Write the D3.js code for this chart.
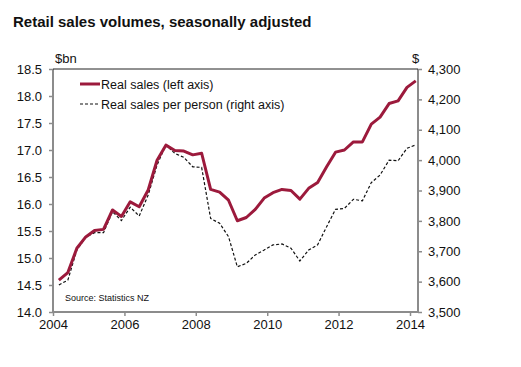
<!DOCTYPE html>
<html>
<head>
<meta charset="utf-8">
<script src="https://cdn.jsdelivr.net/npm/d3@7"></script>
<style>
  body { margin: 0; background: #fff; }
  svg { font-family: "Liberation Sans", Arial, sans-serif; }
</style>
</head>
<body>
<div class="plot"></div>
<script>
// quarter end months
const quarters = [
  "2004-03","2004-06","2004-09","2004-12","2005-03","2005-06","2005-09","2005-12",
  "2006-03","2006-06","2006-09","2006-12","2007-03","2007-06","2007-09","2007-12",
  "2008-03","2008-06","2008-09","2008-12","2009-03","2009-06","2009-09","2009-12",
  "2010-03","2010-06","2010-09","2010-12","2011-03","2011-06","2011-09","2011-12",
  "2012-03","2012-06","2012-09","2012-12","2013-03","2013-06","2013-09","2013-12",
  "2014-03"
];
// Real sales, $bn (left axis)
const realSales = [
  14.59, 14.73, 15.18, 15.39, 15.51, 15.53, 15.89, 15.77, 16.04, 15.95,
  16.26, 16.81, 17.09, 16.99, 16.98, 16.91, 16.94, 16.27, 16.22, 16.07,
  15.69, 15.75, 15.90, 16.11, 16.21, 16.27, 16.25, 16.09, 16.29, 16.40,
  16.69, 16.96, 17.00, 17.15, 17.15, 17.48, 17.61, 17.86, 17.91, 18.16,
  18.28
];
// Real sales per person, $ (right axis)
const perPerson = [
  3589, 3605, 3704, 3746, 3761, 3761, 3830, 3801, 3845, 3816,
  3885, 3984, 4050, 4022, 4009, 3978, 3976, 3808, 3792, 3748,
  3649, 3660, 3688, 3704, 3721, 3724, 3710, 3668, 3704, 3721,
  3781, 3838, 3841, 3871, 3866, 3926, 3951, 4000, 3998, 4039,
  4050
];
const leftTicks = [14.0, 14.5, 15.0, 15.5, 16.0, 16.5, 17.0, 17.5, 18.0, 18.5];
const rightTicks = [3500, 3600, 3700, 3800, 3900, 4000, 4100, 4200, 4300];
const yearTicks = [2004, 2006, 2008, 2010, 2012, 2014];

const W = 521, H = 367;
const margin = {top: 69, right: 103, bottom: 55, left: 53};
const w = W - margin.left - margin.right;
const h = H - margin.top - margin.bottom;

const parse = d3.timeParse("%Y-%m");
const dates = quarters.map(parse);

const svg = d3.select(".plot")
  .append("svg")
    .attr("width", W)
    .attr("height", H);

const g = svg.append("g")
  .attr("transform", "translate(" + margin.left + "," + margin.top + ")");

// 2004 at left edge, 2014 a bit short of the right edge
const x = d3.scaleTime()
  .domain([new Date(2004, 0, 1), new Date(2014, 0, 1)])
  .range([0, 357]);
const yL = d3.scaleLinear().domain([14, 18.5]).range([h, 0]);
const yR = d3.scaleLinear().domain([3500, 4300]).range([h, 0]);

const red = "#9c1a3c";
const axisGrey = "#8c8c8c";

// Title
svg.append("text")
  .attr("x", 13)
  .attr("y", 27)
  .style("font-size", "15px")
  .style("font-weight", "bold")
  .attr("fill", "#111")
  .text("Retail sales volumes, seasonally adjusted");

// Axes
const leftAxis = g.append("g")
  .call(d3.axisLeft(yL).tickValues(leftTicks).tickFormat(d3.format(".1f")).tickSize(4).tickPadding(7));
const rightAxis = g.append("g")
  .attr("transform", "translate(" + w + ",0)")
  .call(d3.axisRight(yR).tickValues(rightTicks).tickFormat(d3.format(",")).tickSize(4).tickPadding(6));
const bottomAxis = g.append("g")
  .attr("transform", "translate(0," + h + ")")
  .call(d3.axisBottom(x).tickValues(yearTicks.map(y => new Date(y, 0, 1))).tickFormat(d3.timeFormat("%Y")).tickSize(4).tickPadding(4));

[leftAxis, rightAxis, bottomAxis].forEach(a => {
  a.select(".domain").attr("stroke", axisGrey).attr("stroke-width", 2);
  a.selectAll(".tick line").attr("stroke", axisGrey).attr("stroke-width", 1.5);
  a.selectAll(".tick text")
    .attr("fill", "#111")
    .style("font-size", "13px")
    .style("font-family", "Liberation Sans, Arial, sans-serif");
});
bottomAxis.select(".domain").attr("d", "M0,0H" + w);
leftAxis.select(".domain").attr("d", "M0,0V" + h);
rightAxis.select(".domain").attr("d", "M0,0V" + h);

// top border
g.append("line")
  .attr("x1", 0).attr("x2", w)
  .attr("y1", 0).attr("y2", 0)
  .attr("stroke", "#222")
  .attr("stroke-width", 1);

// Unit labels
g.append("text").attr("x", 2).attr("y", -6)
  .style("font-size", "13px").attr("fill", "#111").text("$bn");
g.append("text").attr("x", w - 6).attr("y", -6)
  .style("font-size", "13px").attr("fill", "#111").text("$");

// Lines
const lineL = d3.line()
  .x((d, i) => x(dates[i]))
  .y(d => yL(d));
const lineR = d3.line()
  .x((d, i) => x(dates[i]))
  .y(d => yR(d));

g.append("path")
  .datum(perPerson)
  .attr("d", lineR)
  .attr("fill", "none")
  .attr("stroke", "#111")
  .attr("stroke-width", 1.2)
  .attr("stroke-dasharray", "3,2");

g.append("path")
  .datum(realSales)
  .attr("d", lineL)
  .attr("fill", "none")
  .attr("stroke", red)
  .attr("stroke-width", 3)
  .attr("stroke-linejoin", "round");

// Legend
const legendItems = [
  {label: "Real sales (left axis)", color: red, width: 3, dash: null},
  {label: "Real sales per person (right axis)", color: "#111", width: 1.2, dash: "3,2"}
];
const legend = g.append("g")
  .attr("transform", "translate(27, 15)")
  .selectAll("g")
  .data(legendItems)
  .enter()
  .append("g")
  .attr("transform", (d, i) => "translate(0," + i * 20 + ")");

legend.append("line")
  .attr("x1", 0).attr("x2", 20)
  .attr("y1", 0).attr("y2", 0)
  .attr("stroke", d => d.color)
  .attr("stroke-width", d => d.width)
  .attr("stroke-dasharray", d => d.dash);

legend.append("text")
  .attr("x", 21)
  .attr("y", 4.5)
  .style("font-size", "12.5px")
  .attr("fill", "#111")
  .text(d => d.label);

// Source
g.append("text")
  .attr("x", 12)
  .attr("y", h - 11)
  .style("font-size", "9px")
  .attr("fill", "#111")
  .text("Source: Statistics NZ");
</script>
</body>
</html>
